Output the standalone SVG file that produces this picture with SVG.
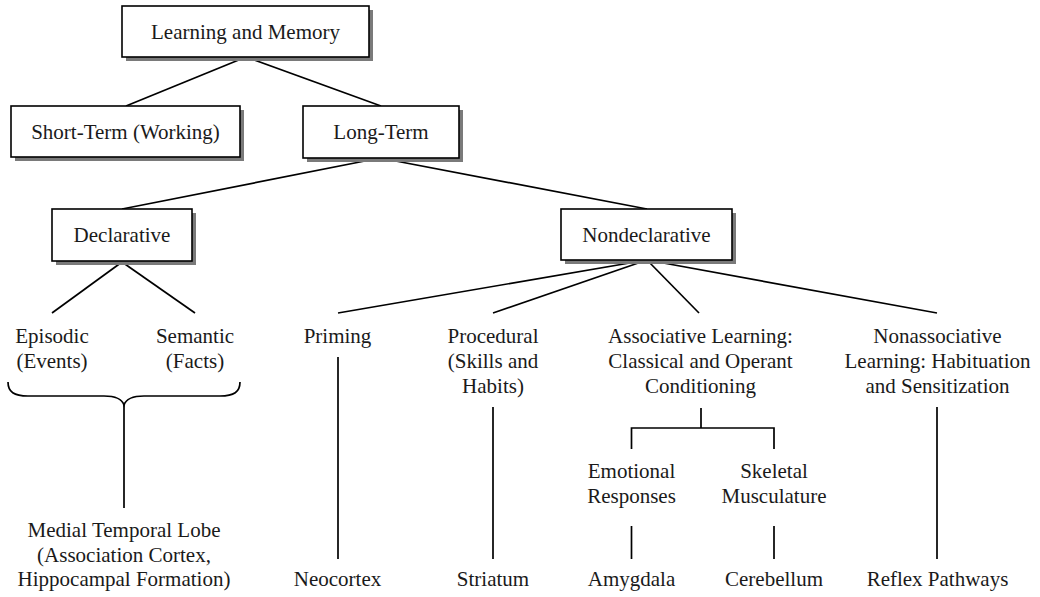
<svg xmlns="http://www.w3.org/2000/svg" width="1040" height="597" viewBox="0 0 1040 597">
  <defs>
    <style>
      .box { fill: #ffffff; stroke: #000000; stroke-width: 1.6; }
      .shadow { fill: #7a7a7a; stroke: none; }
      .lbl { font-family: "Liberation Serif", "Times New Roman", serif; font-size: 21px; fill: #1a1a1a; text-anchor: middle; }
      .wire { stroke: #000000; stroke-width: 1.7; fill: none; stroke-linecap: butt; }
    </style>
  </defs>
  <rect width="1040" height="597" fill="#ffffff"/>

  <!-- connectors -->
  <g id="connectors">
    <line class="wire" x1="246" y1="57" x2="126" y2="106"/>
    <line class="wire" x1="246" y1="57" x2="381" y2="106"/>
    <line class="wire" x1="380" y1="158" x2="122" y2="209"/>
    <line class="wire" x1="380" y1="158" x2="647" y2="209"/>
    <line class="wire" x1="122" y1="262" x2="52" y2="313"/>
    <line class="wire" x1="122" y1="262" x2="195" y2="313"/>
    <line class="wire" x1="647" y1="260" x2="338" y2="313"/>
    <line class="wire" x1="647" y1="260" x2="493" y2="313"/>
    <line class="wire" x1="647" y1="260" x2="699" y2="313"/>
    <line class="wire" x1="647" y1="260" x2="937" y2="313"/>
    <!-- brace joining episodic and semantic -->
    <path class="wire" d="M8,382 C8,392 14,396 28,396 L104,396 C116,396 122,399 124,405 C126,399 132,396 144,396 L220,396 C234,396 240,392 240,382"/>
    <line class="wire" x1="124" y1="405" x2="124" y2="508"/>
    <line class="wire" x1="338" y1="357" x2="338" y2="559"/>
    <line class="wire" x1="493" y1="407" x2="493" y2="559"/>
    <line class="wire" x1="937" y1="407" x2="937" y2="559"/>
    <path class="wire" d="M701,408 L701,428 M631.5,449 L631.5,428 L774,428 L774,449"/>
    <line class="wire" x1="631.5" y1="526" x2="631.5" y2="559"/>
    <line class="wire" x1="774" y1="526" x2="774" y2="559"/>
  </g>

  <!-- boxed nodes -->
  <g id="learning-memory">
    <rect class="shadow" x="126" y="10" width="247" height="51"/>
    <rect class="box" x="122" y="6" width="247" height="51"/>
    <text class="lbl" x="245.5" y="38.5">Learning and Memory</text>
  </g>
  <g id="short-term">
    <rect class="shadow" x="15" y="110" width="229" height="51"/>
    <rect class="box" x="11" y="106" width="229" height="51"/>
    <text class="lbl" x="125.5" y="139">Short-Term (Working)</text>
  </g>
  <g id="long-term">
    <rect class="shadow" x="307" y="110" width="156" height="52"/>
    <rect class="box" x="303" y="106" width="156" height="52"/>
    <text class="lbl" x="381" y="139">Long-Term</text>
  </g>
  <g id="declarative">
    <rect class="shadow" x="56" y="213" width="140" height="52"/>
    <rect class="box" x="52" y="209" width="140" height="52"/>
    <text class="lbl" x="122" y="242">Declarative</text>
  </g>
  <g id="nondeclarative">
    <rect class="shadow" x="565" y="213" width="171" height="51"/>
    <rect class="box" x="561" y="209" width="171" height="51"/>
    <text class="lbl" x="646.5" y="241.5">Nondeclarative</text>
  </g>

  <!-- memory types -->
  <g id="episodic">
    <text class="lbl" x="52" y="343">Episodic</text>
    <text class="lbl" x="52" y="368">(Events)</text>
  </g>
  <g id="semantic">
    <text class="lbl" x="195" y="343">Semantic</text>
    <text class="lbl" x="195" y="368">(Facts)</text>
  </g>
  <g id="priming">
    <text class="lbl" x="337.5" y="343">Priming</text>
  </g>
  <g id="procedural">
    <text class="lbl" x="493" y="343">Procedural</text>
    <text class="lbl" x="493" y="368">(Skills and</text>
    <text class="lbl" x="493" y="393">Habits)</text>
  </g>
  <g id="associative">
    <text class="lbl" x="700.5" y="343">Associative Learning:</text>
    <text class="lbl" x="700.5" y="368">Classical and Operant</text>
    <text class="lbl" x="700.5" y="393">Conditioning</text>
  </g>
  <g id="nonassociative">
    <text class="lbl" x="937.5" y="343">Nonassociative</text>
    <text class="lbl" x="937.5" y="368">Learning: Habituation</text>
    <text class="lbl" x="937.5" y="393">and Sensitization</text>
  </g>
  <g id="emotional">
    <text class="lbl" x="631.5" y="478">Emotional</text>
    <text class="lbl" x="631.5" y="503">Responses</text>
  </g>
  <g id="skeletal">
    <text class="lbl" x="774" y="478">Skeletal</text>
    <text class="lbl" x="774" y="503">Musculature</text>
  </g>

  <!-- brain structures -->
  <g id="medial-temporal">
    <text class="lbl" x="124" y="537">Medial Temporal Lobe</text>
    <text class="lbl" x="124" y="561.5">(Association Cortex,</text>
    <text class="lbl" x="124" y="586">Hippocampal Formation)</text>
  </g>
  <g id="neocortex">
    <text class="lbl" x="337.5" y="586">Neocortex</text>
  </g>
  <g id="striatum">
    <text class="lbl" x="493" y="586">Striatum</text>
  </g>
  <g id="amygdala">
    <text class="lbl" x="631.5" y="586">Amygdala</text>
  </g>
  <g id="cerebellum">
    <text class="lbl" x="774" y="586">Cerebellum</text>
  </g>
  <g id="reflex">
    <text class="lbl" x="937.5" y="586">Reflex Pathways</text>
  </g>
</svg>
